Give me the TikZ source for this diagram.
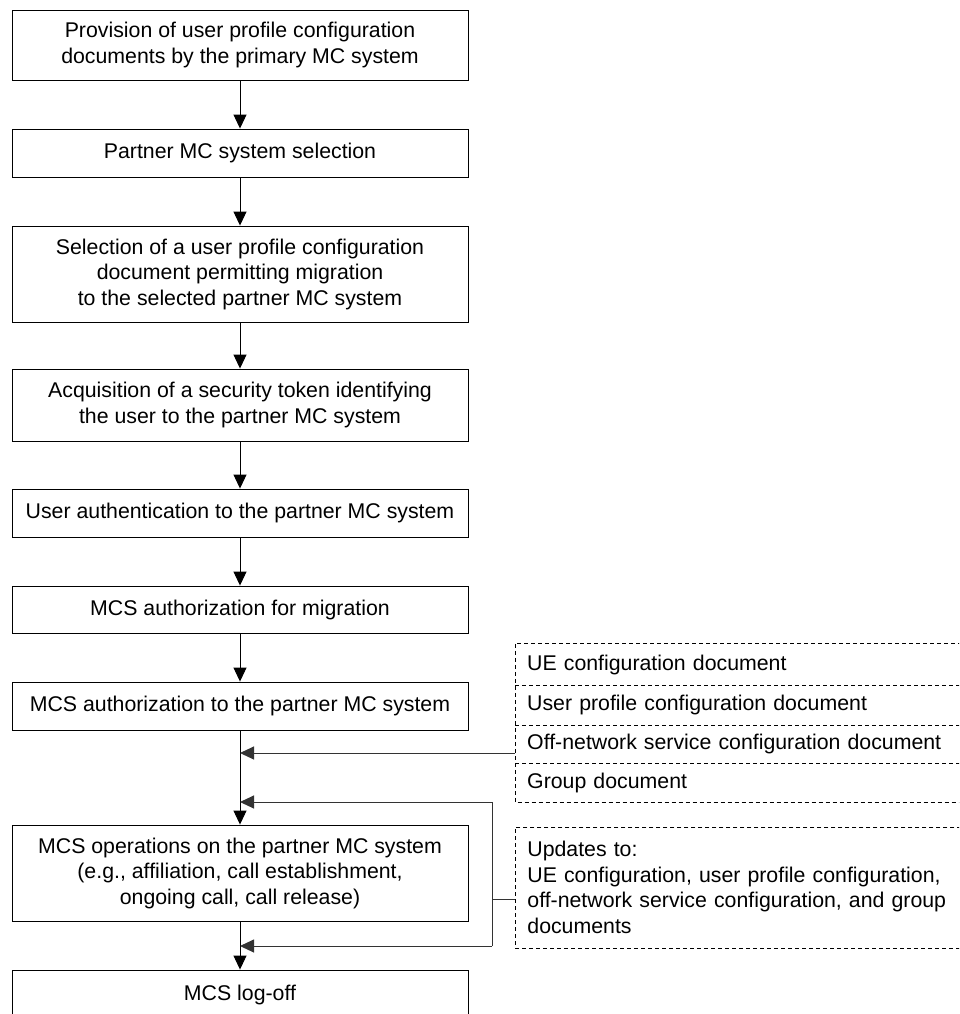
\documentclass[tikz,border=0pt]{standalone}
\usepackage{fontspec}
\setmainfont{Liberation Sans}
\usetikzlibrary{arrows.meta}
\begin{document}
\begin{tikzpicture}[x=1pt,y=-1pt,
  txt/.style={font=\fontsize{21.3}{25.5}\selectfont},
  box/.style={txt, draw, line width=0.9pt, minimum width=456pt, inner sep=0pt, align=center},
  drow/.style={txt, anchor=west,
    minimum width=460pt, text width=436pt, inner xsep=12pt, inner ysep=0pt, align=left},
  dsh/.style={dash pattern=on 4pt off 3pt, line width=0.8pt},
  arr/.style={-{Triangle[length=14pt,width=13pt]}, line width=1pt},
  ln/.style={line width=1pt, draw=black!80}
]
\clip (0,0) rectangle (959,1014);
\fill[white] (0,0) rectangle (959,1014);

\node[box, minimum height=70pt] (b1) at (240,45) {Provision of user profile configuration\\documents by the primary MC system};
\node[box, minimum height=48pt] (b2) at (240,153) {Partner MC system selection};
\node[box, minimum height=96pt] (b3) at (240,274) {Selection of a user profile configuration\\document permitting migration\\to the selected partner MC system};
\node[box, minimum height=72pt] (b4) at (240,405) {Acquisition of a security token identifying\\the user to the partner MC system};
\node[box, minimum height=48pt] (b5) at (240,513) {User authentication to the partner MC system};
\node[box, minimum height=47pt] (b6) at (240,609.5) {MCS authorization for migration};
\node[box, minimum height=48pt] (b7) at (240,706) {MCS authorization to the partner MC system};
\node[box, minimum height=96pt] (b8) at (240,873) {MCS operations on the partner MC system\\(e.g., affiliation, call establishment,\\ongoing call, call release)};
\node[box, minimum height=50pt] (b9) at (240,995) {MCS log-off};

\node[drow, minimum height=41pt] (r1) at (515,664.5) {UE configuration document};
\node[drow, minimum height=40pt] (r2) at (515,705) {User profile configuration document};
\node[drow, minimum height=38pt] (r3) at (515,744) {Off-network service configuration document};
\node[drow, minimum height=39pt] (r4) at (515,782.5) {Group document};
\draw[dsh] (r1.north west) rectangle (r4.south east);
\draw[dsh] (r1.south west) -- (r1.south east);
\draw[dsh] (r2.south west) -- (r2.south east);
\draw[dsh] (r3.south west) -- (r3.south east);

\node[drow, draw, dsh, minimum height=121pt] (upd) at (515,887.5) {Updates to:\\UE configuration, user profile configuration,\\off-network service configuration, and group\\documents};

\draw[arr] (b1) -- (b2);
\draw[arr] (b2) -- (b3);
\draw[arr] (b3) -- (b4);
\draw[arr] (b4) -- (b5);
\draw[arr] (b5) -- (b6);
\draw[arr] (b6) -- (b7);
\draw[arr] (b7.south) -- (b8.north);
\draw[arr] (b8.south) -- (b9.north);

\coordinate (ga) at (515,753);
\coordinate (ja) at (240,753);
\draw[arr, ln] (ga) -- (ja);

\coordinate (ua) at (515,899);
\coordinate (lp) at (492,899);
\coordinate (lt) at (492,802);
\coordinate (lb) at (492,946);
\coordinate (jt) at (240,802);
\coordinate (jb) at (240,946);
\draw[ln] (ua) -- (lp);
\draw[ln] (lt) -- (lb);
\draw[arr, ln] (lt) -- (jt);
\draw[arr, ln] (lb) -- (jb);
\end{tikzpicture}
\end{document}
